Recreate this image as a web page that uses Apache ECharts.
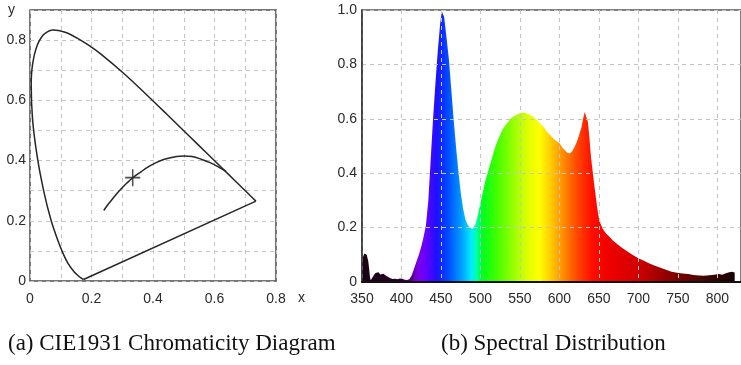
<!DOCTYPE html>
<html>
<head>
<meta charset="utf-8">
<script src="https://cdn.jsdelivr.net/npm/echarts@6/dist/echarts.min.js"></script>
<style>html,body{margin:0;padding:0;background:#fff;}#c{width:741px;height:365px;}</style>
</head>
<body>
<div id="c"></div>
<script>
// ---- CIE 1931 chromaticity (left) ----
const locusX = [0.1741,0.1644,0.1566,0.1440,0.1241,0.1096,0.0913,0.0687,0.0454,0.0235,0.0082,0.0039,0.0139,0.0389,0.0743,0.1142,0.1547,0.1929,0.2296,0.3016,0.3731,0.4441,0.5125,0.5752,0.6270,0.6658,0.6915,0.7190,0.7347];
const locusY = [0.0050,0.0109,0.0177,0.0297,0.0578,0.0868,0.1327,0.2007,0.2950,0.4127,0.5384,0.6548,0.7502,0.8120,0.8338,0.8262,0.8059,0.7816,0.7543,0.6923,0.6245,0.5547,0.4866,0.4242,0.3725,0.3340,0.3083,0.2809,0.2653];
const purpleX = [0.7347,0.1741];
const purpleY = [0.2653,0.0050];
const planckX = [0.2399,0.2525,0.2637,0.2806,0.2952,0.3135,0.3221,0.3324,0.3451,0.3608,0.3805,0.4053,0.4369,0.4770,0.5008,0.5267,0.5567,0.5857,0.6110,0.6370];
const planckY = [0.2341,0.2523,0.2664,0.2883,0.3048,0.3237,0.3318,0.3411,0.3516,0.3621,0.3768,0.3907,0.4041,0.4137,0.4152,0.4133,0.4045,0.3931,0.3800,0.3640];
const pointX = [0.334];
const pointY = [0.343];
const cieXTicks = ['0','0.2','0.4','0.6','0.8'];
const cieYTicks = ['0','0.2','0.4','0.6','0.8'];

// ---- Spectral distribution (right) ----
const wavelengths = [350,351,353,354,356,357,358,359,360,361,363,365,367,369,371,373,375,377,379,381,383,386,389,392,395,398,401,404,407,410,413,416,419,422,425,428,431,434,437,440,443,446,449,451,452,454,457,460,463,466,469,472,475,478,481,484,487,490,492,494,497,500,503,506,509,512,515,518,521,524,527,530,534,538,542,546,550,554,558,562,566,570,575,580,585,590,595,600,605,610,613,616,619,622,625,628,630,632,633,634,636,638,640,642,644,646,648,650,652,655,659,663,668,673,680,687,694,700,707,714,721,728,735,742,749,756,763,770,777,783,790,796,802,806,810,814,818,822];
const intensity = [0.06,0.09,0.105,0.11,0.10,0.095,0.075,0.05,0.02,0.006,0.005,0.025,0.033,0.03,0.036,0.028,0.025,0.03,0.028,0.022,0.018,0.014,0.011,0.012,0.01,0.013,0.012,0.008,0.007,0.01,0.025,0.05,0.075,0.10,0.13,0.165,0.21,0.30,0.45,0.60,0.73,0.85,0.95,0.995,1.0,0.975,0.90,0.82,0.71,0.60,0.50,0.41,0.33,0.27,0.23,0.21,0.20,0.195,0.20,0.215,0.25,0.29,0.33,0.37,0.40,0.43,0.46,0.49,0.515,0.535,0.555,0.57,0.585,0.60,0.608,0.615,0.62,0.623,0.62,0.615,0.61,0.60,0.585,0.57,0.55,0.535,0.52,0.51,0.49,0.475,0.472,0.48,0.495,0.515,0.54,0.57,0.60,0.625,0.63,0.625,0.59,0.53,0.46,0.41,0.36,0.315,0.27,0.235,0.215,0.195,0.178,0.167,0.152,0.14,0.124,0.11,0.097,0.087,0.078,0.068,0.06,0.052,0.045,0.038,0.034,0.031,0.029,0.026,0.024,0.023,0.025,0.027,0.029,0.027,0.031,0.035,0.038,0.035];
const specXTicks = ['350','400','450','500','550','600','650','700','750','800'];
const specYTicks = ['0','0.2','0.4','0.6','0.8','1.0'];
// wavelength -> colour of the fill
const specColorWl = [350,400,410,420,430,445,460,475,488,495,502,520,540,560,575,590,605,620,640,660,700,740,780,822];
const specColors = ['#1a0010','#2a0030','#45006a','#7a00e0','#6a00ff','#1a10ff','#0050ff','#0098ff','#00eaff','#00ffb0','#00ff20','#40ff00','#90ff00','#e0ff00','#ffff00','#ffc800','#ff8c00','#ff5000','#ff1000','#f20000','#d00000','#8a0000','#4a0404','#150000'];

const chart = echarts.init(document.getElementById('c'), null, {renderer: 'canvas'});
const wlMin = wavelengths[0], wlMax = wavelengths[wavelengths.length - 1];
const stops = specColorWl.map((w, i) => ({offset: (w - wlMin) / (wlMax - wlMin), color: specColors[i]}));

const labelFont = {fontFamily: 'Liberation Sans, Arial, sans-serif', fontSize: 14, color: '#2a2a2a'};
const dashed = {show: true, lineStyle: {color: '#c4c4c4', width: 1, type: [4, 4]}};
const zip = (xs, ys) => xs.map((x, i) => [x, ys[i]]);
const fmtTicks = (list) => (v) => {
  const s = v === 0 ? '0' : (Math.abs(v - 1) < 1e-9 ? '1.0' : String(Math.round(v * 10) / 10));
  return list.indexOf(s) >= 0 ? s : '';
};

chart.setOption({
  animation: false,
  backgroundColor: '#ffffff',
  grid: [
    {left: 30, top: 10, width: 246, height: 271, show: true, borderColor: '#4a4a4a', borderWidth: 1.5, backgroundColor: 'transparent'},
    {left: 362, top: 10, width: 386, height: 272, show: true, borderColor: '#555', borderWidth: 1.5, backgroundColor: 'transparent'}
  ],
  xAxis: [
    {gridIndex: 0, type: 'value', min: 0, max: 0.8, interval: 0.1, z: 3,
     axisLine: {show: false}, axisTick: {show: false}, splitLine: dashed,
     axisLabel: Object.assign({margin: 11, formatter: fmtTicks(cieXTicks), showMaxLabel: true}, labelFont)},
    {gridIndex: 1, type: 'value', min: 350, max: 830, interval: 50, z: 3,
     axisLine: {show: true, onZero: false, lineStyle: {color: '#111', width: 2}}, axisTick: {show: false}, splitLine: dashed,
     axisLabel: Object.assign({margin: 10, showMaxLabel: false, formatter: (v) => specXTicks.indexOf(String(v)) >= 0 ? String(v) : ''}, labelFont)}
  ],
  yAxis: [
    {gridIndex: 0, type: 'value', min: 0, max: 0.9, interval: 0.1, z: 3,
     axisLine: {show: false}, axisTick: {show: false}, splitLine: dashed,
     axisLabel: Object.assign({margin: 4, formatter: fmtTicks(cieYTicks)}, labelFont)},
    {gridIndex: 1, type: 'value', min: 0, max: 1, interval: 0.2, z: 3,
     axisLine: {show: true, onZero: false, lineStyle: {color: '#333', width: 1.5}}, axisTick: {show: false}, splitLine: dashed,
     axisLabel: Object.assign({margin: 5, formatter: fmtTicks(specYTicks)}, labelFont)}
  ],
  series: [
    {type: 'line', xAxisIndex: 0, yAxisIndex: 0, data: zip(locusX, locusY), smooth: 0.3, showSymbol: false, z: 4,
     lineStyle: {color: '#262626', width: 1.5}},
    {type: 'line', xAxisIndex: 0, yAxisIndex: 0, data: zip(purpleX, purpleY), showSymbol: false, z: 4,
     lineStyle: {color: '#262626', width: 1.5}},
    {type: 'line', xAxisIndex: 0, yAxisIndex: 0, data: zip(planckX, planckY), smooth: 0.4, showSymbol: false, z: 4,
     lineStyle: {color: '#262626', width: 1.5}},
    {type: 'scatter', xAxisIndex: 0, yAxisIndex: 0, data: zip(pointX, pointY), z: 5,
     symbol: 'path://M7.2,0H8.8V7.2H16V8.8H8.8V16H7.2V8.8H0V7.2H7.2Z', symbolSize: [15, 17],
     itemStyle: {color: '#222'}},
    {type: 'line', xAxisIndex: 1, yAxisIndex: 1, data: zip(wavelengths, intensity), showSymbol: false, z: 1,
     lineStyle: {width: 0, opacity: 0},
     areaStyle: {opacity: 1, color: new echarts.graphic.LinearGradient(0, 0, 1, 0, stops)}}
  ],
  graphic: [
    {type: 'text', left: 8, top: 3, style: {text: 'y', font: '14px "Liberation Sans", Arial, sans-serif', fill: '#2a2a2a'}},
    {type: 'text', left: 298, top: 291, style: {text: 'x', font: '14px "Liberation Sans", Arial, sans-serif', fill: '#2a2a2a'}},
    {type: 'text', left: 8, top: 332, style: {text: '(a) CIE1931 Chromaticity Diagram', font: '23px "Liberation Serif", "Times New Roman", serif', fill: '#111'}},
    {type: 'text', left: 441, top: 332, style: {text: '(b) Spectral Distribution', font: '23px "Liberation Serif", "Times New Roman", serif', fill: '#111'}}
  ]
});
</script>
</body>
</html>
